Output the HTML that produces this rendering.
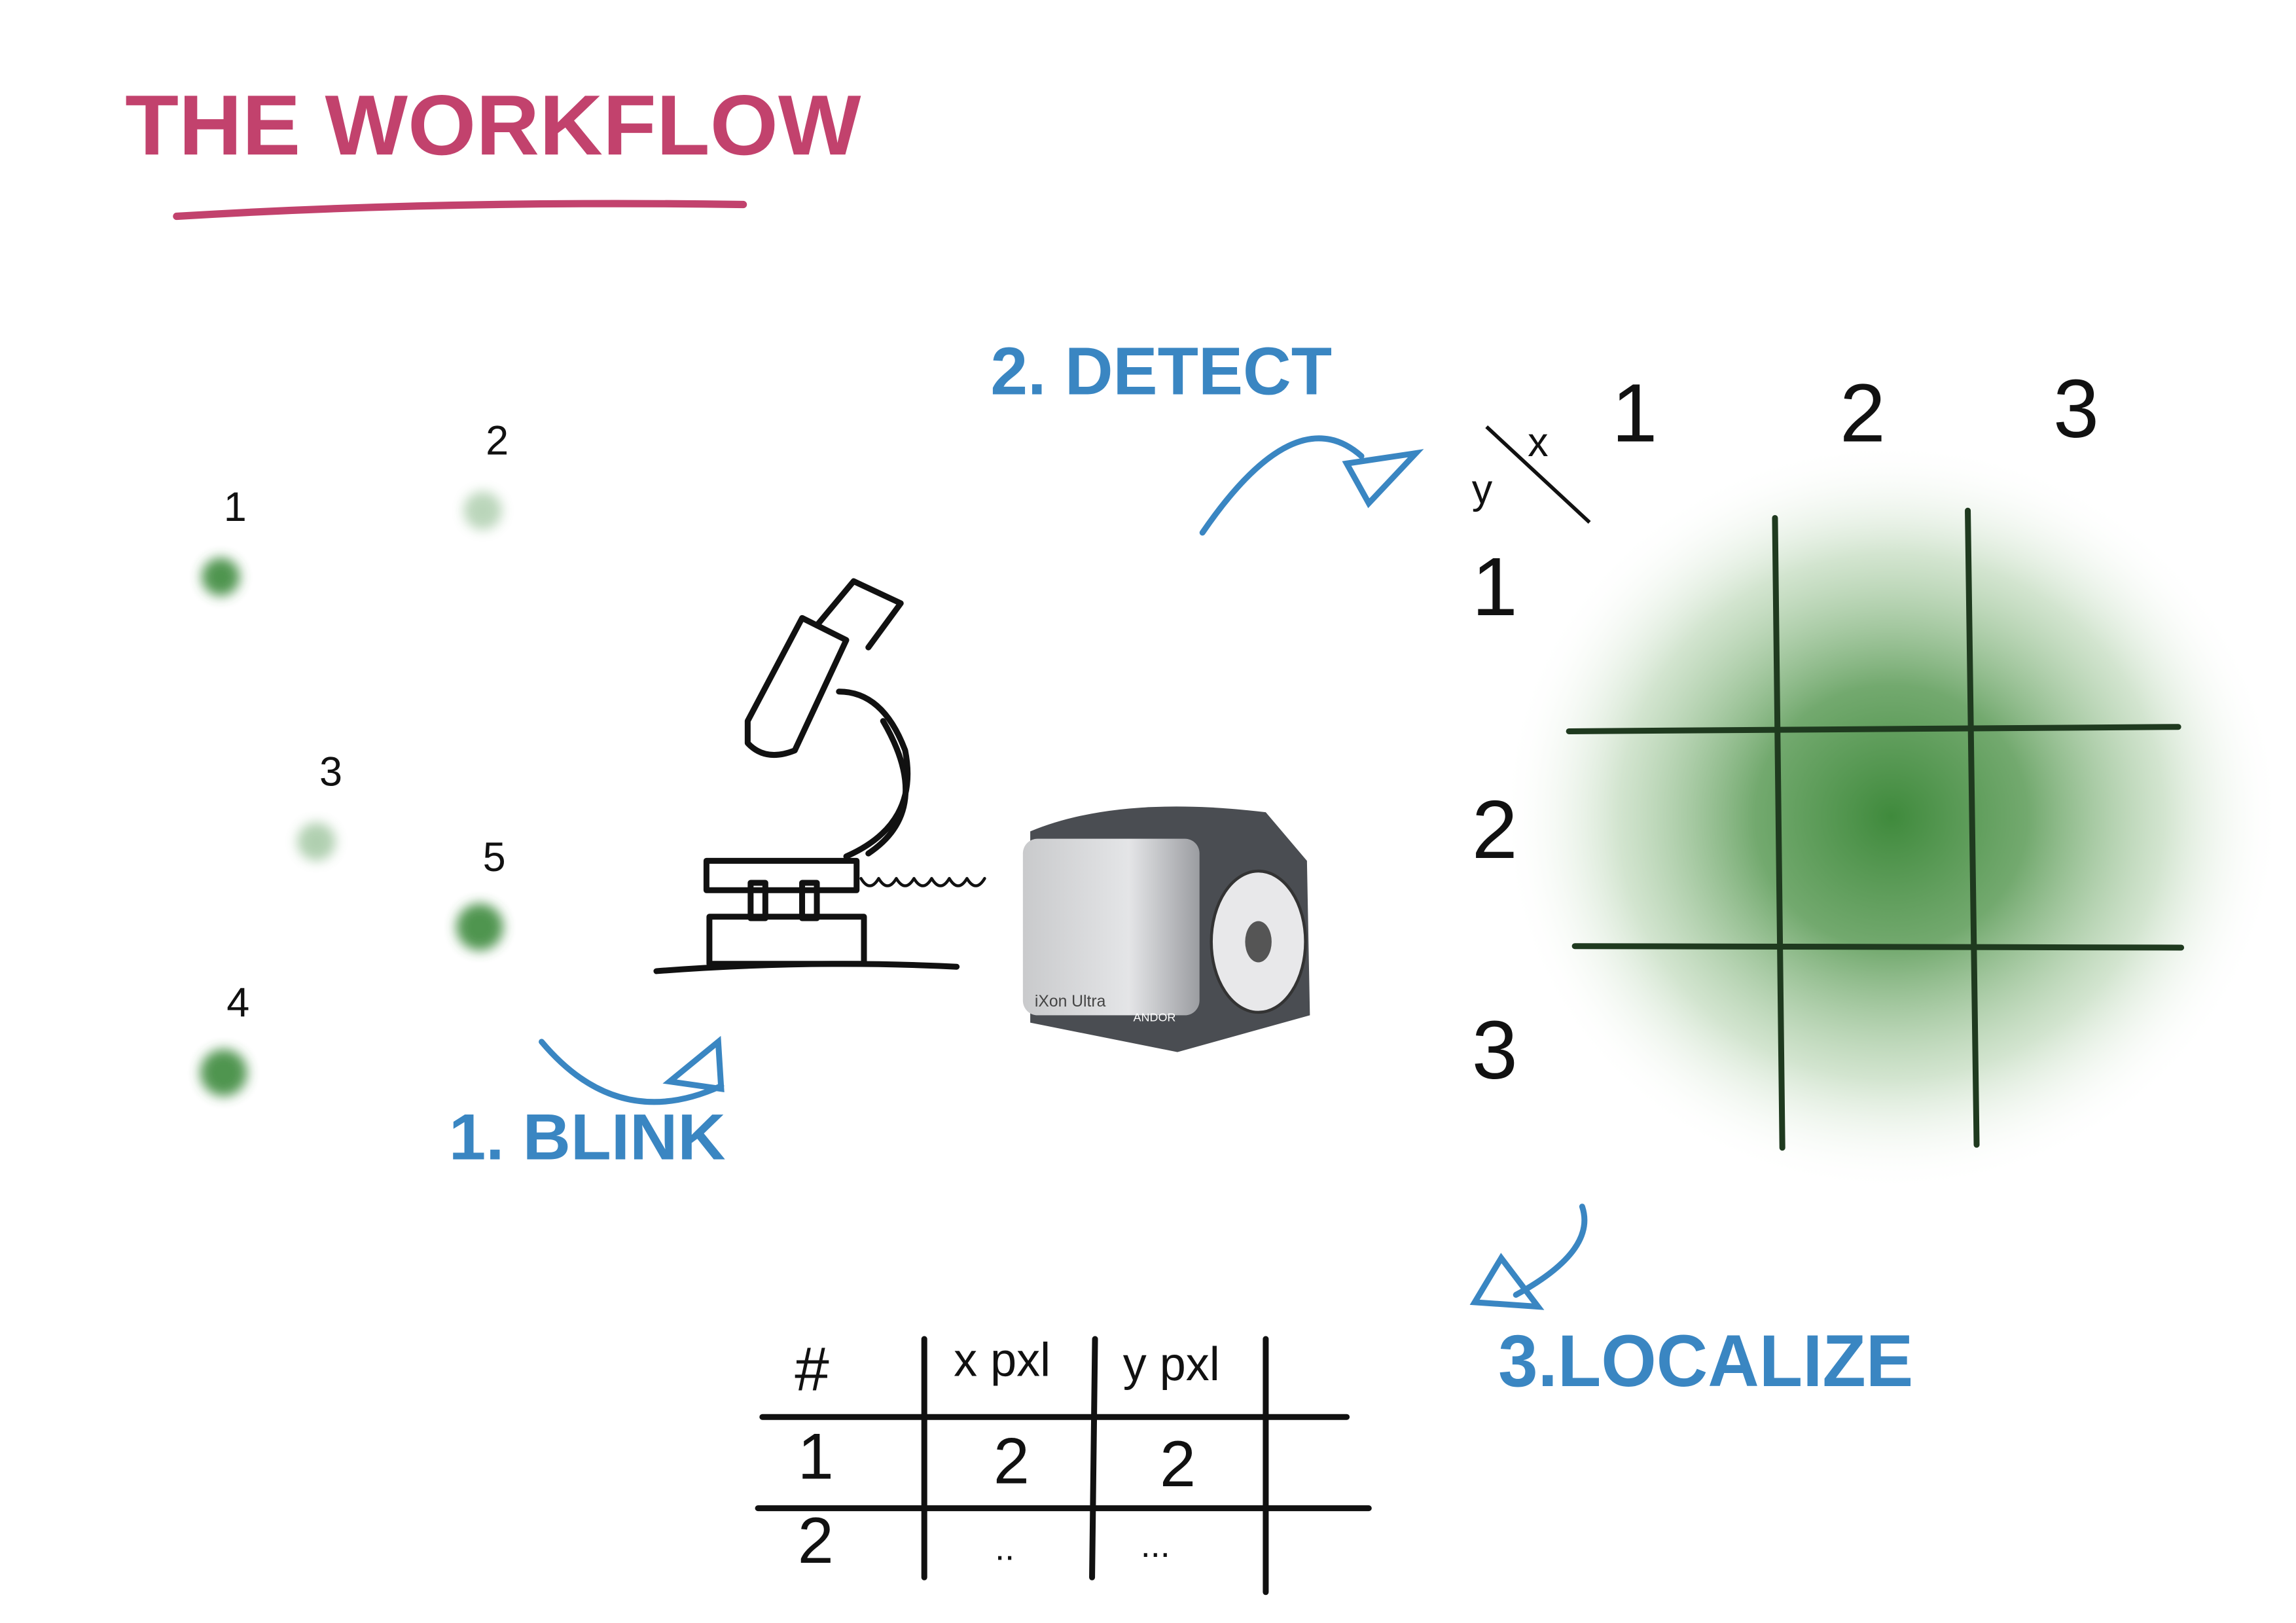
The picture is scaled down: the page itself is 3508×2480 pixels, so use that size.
<!DOCTYPE html>
<html><head><meta charset="utf-8">
<style>
html,body{margin:0;padding:0;background:#fff;}
svg{display:block;}
.hand{font-family:"Liberation Sans",sans-serif;}
</style></head>
<body>
<svg id="root" width="3508" height="2480" viewBox="0 0 1560 1103" preserveAspectRatio="none" xmlns="http://www.w3.org/2000/svg">
<defs>
  <radialGradient id="psf" cx="50%" cy="50%" r="50%">
    <stop offset="0%" stop-color="#3f8a3c" stop-opacity="1"/>
    <stop offset="35%" stop-color="#5a9a55" stop-opacity="0.85"/>
    <stop offset="70%" stop-color="#9cc495" stop-opacity="0.45"/>
    <stop offset="100%" stop-color="#ffffff" stop-opacity="0"/>
  </radialGradient>
  <filter id="blur" x="-1" y="-1" width="3" height="3"><feGaussianBlur stdDeviation="4"/></filter>
  <linearGradient id="cam" x1="0" y1="0" x2="1" y2="0">
    <stop offset="0" stop-color="#c9cacc"/><stop offset="0.6" stop-color="#e4e5e7"/><stop offset="1" stop-color="#9b9da1"/>
  </linearGradient>
</defs>
<rect width="1560" height="1103" fill="#fff"/>

<!-- Title -->
<g>
  <text x="85" y="105" class="hand" font-size="58" font-weight="bold" fill="#c2426d" textLength="500" lengthAdjust="spacingAndGlyphs">THE WORKFLOW</text>
  <path d="M120 147 Q300 136 505 139" stroke="#c2426d" stroke-width="5" fill="none" stroke-linecap="round"/>
</g>

<!-- Blinking dots -->
<g id="dots"></g>

<!-- Microscope -->
<g stroke="#111" stroke-width="4" fill="none" stroke-linecap="round" stroke-linejoin="round">
  <path d="M446 660 Q550 652 650 657"/>
  <rect x="482" y="623" width="105" height="32"/>
  <rect x="510" y="600" width="10" height="24"/><rect x="545" y="600" width="10" height="24"/>
  <rect x="480" y="585" width="102" height="20"/>
  <path d="M575 582 Q625 560 615 510 Q600 470 570 470"/>
  <path d="M590 580 Q635 550 600 490"/>
  <path d="M508 490 L545 420 L575 435 L540 510 Q520 518 508 505 Z"/>
  <path d="M555 425 L580 395 L612 410 L590 440"/>
  <path d="M585 597 q6 10 12 0 q6 10 12 0 q6 10 12 0 q6 10 12 0 q6 10 12 0 q6 10 12 0 q6 10 12 0" stroke-width="2"/>
</g>

<!-- Camera -->
<g>
  <path d="M700 565 Q760 540 860 552 L888 585 L890 690 L800 715 L700 695 Z" fill="#4a4d52"/>
  <rect x="695" y="570" width="120" height="120" rx="10" fill="url(#cam)"/>
  <ellipse cx="855" cy="640" rx="32" ry="48" fill="#e8e8ea" stroke="#333" stroke-width="2"/>
  <ellipse cx="855" cy="640" rx="9" ry="14" fill="#555"/>
  <text x="703" y="684" class="hand" font-size="11" fill="#444">iXon Ultra</text>
  <text x="770" y="694" class="hand" font-size="8" fill="#fff">ANDOR</text>
</g>

<!-- Step labels -->
<g fill="#3a86c2" stroke="#3a86c2">
  <path d="M368 708 Q420 770 490 738 M455 735 L488 708 L490 740 Z" stroke-width="4" fill="none" stroke-linecap="round"/>
  <text x="305" y="788" class="hand" font-size="44" font-weight="bold" stroke="none" textLength="188" lengthAdjust="spacingAndGlyphs">1. BLINK</text>
</g>
<g fill="#3a86c2" stroke="#3a86c2">
  <path d="M817 362 Q880 270 925 310 M915 315 L962 308 L930 342 Z" stroke-width="4" fill="none" stroke-linecap="round"/>
  <text x="673" y="268" class="hand" font-size="46" font-weight="bold" stroke="none" textLength="232" lengthAdjust="spacingAndGlyphs">2. DETECT</text>
</g>
<g fill="#3a86c2" stroke="#3a86c2">
  <path d="M1075 820 Q1085 850 1030 880 M1002 885 L1045 888 L1020 855 Z" stroke-width="4" fill="none" stroke-linecap="round"/>
  <text x="1018" y="942" class="hand" font-size="50" font-weight="bold" stroke="none" textLength="282" lengthAdjust="spacingAndGlyphs">3.LOCALIZE</text>
</g>

<!-- PSF grid -->
<g>
  <ellipse cx="1285" cy="555" rx="265" ry="255" fill="url(#psf)"/>
  <g stroke="#1f3a1f" stroke-width="4" stroke-linecap="round">
    <path d="M1206 352 L1211 780"/><path d="M1337 347 L1343 778"/>
    <path d="M1066 497 L1480 494"/><path d="M1070 643 L1482 644"/>
  </g>
  <path d="M1010 290 L1080 355" stroke="#111" stroke-width="2.5"/>
  <g class="hand" font-size="56" fill="#111">
    <text x="1095" y="300">1</text><text x="1250" y="300">2</text><text x="1395" y="297">3</text>
    <text x="1000" y="418">1</text><text x="1000" y="583">2</text><text x="1000" y="733">3</text>
    <text x="1000" y="342" font-size="28">y</text><text x="1038" y="310" font-size="28">x</text>
  </g>
</g>

<!-- Table -->
<g stroke="#111" stroke-width="4" stroke-linecap="round">
  <path d="M518 963 L915 963"/><path d="M515 1025 L930 1025"/>
  <path d="M628 910 L628 1072"/><path d="M744 910 L742 1072"/><path d="M860 910 L860 1082"/>
  <g class="hand" fill="#111" stroke="none">
    <text x="540" y="945" font-size="42">#</text>
    <text x="648" y="935" font-size="32">x pxl</text>
    <text x="763" y="938" font-size="32">y pxl</text>
    <text x="542" y="1005" font-size="44">1</text>
    <text x="675" y="1008" font-size="44">2</text>
    <text x="788" y="1010" font-size="44">2</text>
    <text x="542" y="1062" font-size="44">2</text>
    <text x="676" y="1060" font-size="24">..</text>
    <text x="775" y="1058" font-size="24">...</text>
  </g>
</g>

<script>
var dotLabels = ["1","2","3","5","4"];
var dotX = [150, 328, 215, 326, 152];
var dotY = [392, 347, 572, 630, 729];
var dotR = [13, 13, 13, 16, 16];
var dotOpacity = [0.9, 0.35, 0.4, 0.9, 0.9];
var g = document.getElementById('dots');
var NS = "http://www.w3.org/2000/svg";
for (var i = 0; i < dotX.length; i++) {
  var c = document.createElementNS(NS, 'circle');
  c.setAttribute('cx', dotX[i]); c.setAttribute('cy', dotY[i]); c.setAttribute('r', dotR[i]);
  c.setAttribute('fill', '#3d8a3d'); c.setAttribute('opacity', dotOpacity[i]);
  c.setAttribute('filter', 'url(#blur)');
  
  
  g.appendChild(c);
  var t = document.createElementNS(NS, 'text');
  t.setAttribute('x', dotX[i] + 2); t.setAttribute('y', dotY[i] - 38);
  t.setAttribute('font-size', '28'); t.setAttribute('fill', '#111');
  t.setAttribute('font-family', 'Liberation Sans, sans-serif');
  t.textContent = dotLabels[i];
  
  
  g.appendChild(t);
}
</script>
</svg>
</body></html>
